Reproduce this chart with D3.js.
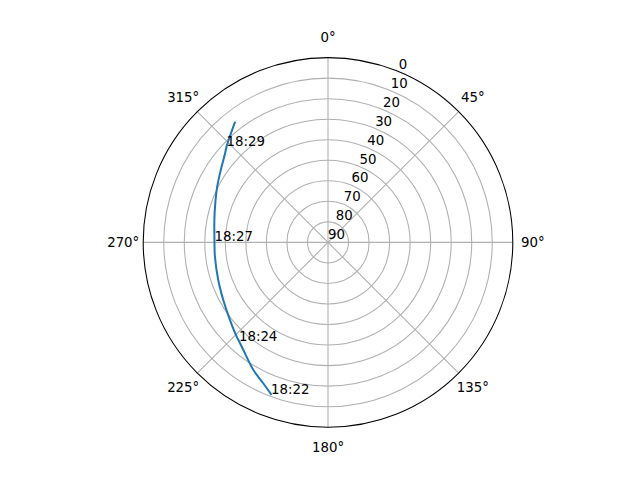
<!DOCTYPE html>
<html>
<head>
<meta charset="utf-8">
<script src="https://cdn.jsdelivr.net/npm/d3@7"></script>
<style>
  html, body { margin: 0; padding: 0; background: #fff; }
  svg { display: block; font-family: "DejaVu Sans", sans-serif; }
</style>
</head>
<body>
<svg id="chart" width="640" height="480"></svg>
<script>
// Track azimuth (deg, clockwise from north) and elevation (deg)
const trackAz = [200.6, 204.7, 210.3, 216.8, 222.1, 224.1, 231.6, 241.2, 251.1, 262.8, 270.7, 281.1, 289.1, 296.7, 304.0, 310.9, 313.4, 316.5, 322.1];
const trackEl = [11.1, 14.5, 18.0, 22.5, 25.3, 26.1, 29.1, 31.8, 33.5, 34.5, 34.7, 33.6, 31.9, 29.6, 27.0, 23.7, 22.0, 20.1, 16.1];
// Time annotations
const timeLabels = ["18:22", "18:24", "18:27", "18:29"];
const timeAz = [200.6, 222.1, 270.7, 313.4];
const timeEl = [11.1, 25.3, 34.7, 22.0];
// Axis ticks
const radialTicks = [0, 10, 20, 30, 40, 50, 60, 70, 80, 90];
const angleTicks = [0, 45, 90, 135, 180, 225, 270, 315];

const svg = d3.select("#chart");
const cx = 328, cy = 242.4, R = 184.8;
const g = svg.append("g").attr("transform", `translate(${cx},${cy})`);

const r = d3.scaleLinear().domain([90, 0]).range([0, R]);
const toRad = d => d * Math.PI / 180;
const px = (az, el) => r(el) * Math.sin(toRad(az));
const py = (az, el) => -r(el) * Math.cos(toRad(az));

// grid circles
g.selectAll("circle.grid").data(radialTicks.filter(d => d > 0 && d < 90))
  .enter().append("circle")
  .attr("r", d => r(d))
  .attr("fill", "none").attr("stroke", "#b0b0b0").attr("stroke-width", 1.07);

// angular grid lines
g.selectAll("line.grid").data(angleTicks)
  .enter().append("line")
  .attr("x1", 0).attr("y1", 0)
  .attr("x2", d => R * Math.sin(toRad(d)))
  .attr("y2", d => -R * Math.cos(toRad(d)))
  .attr("stroke", "#b0b0b0").attr("stroke-width", 1.07);

// outer spine
g.append("circle").attr("r", R).attr("fill", "none")
  .attr("stroke", "#000").attr("stroke-width", 1.07);

// angle labels
g.selectAll("text.ang").data(angleTicks)
  .enter().append("text")
  .attr("x", d => (R + 20) * Math.sin(toRad(d)))
  .attr("y", d => -(R + 20) * Math.cos(toRad(d)))
  .attr("text-anchor", "middle").attr("dominant-baseline", "central")
  .attr("font-size", 13.33).attr("fill", "#000")
  .text(d => d + "°");

// radial labels at 22.5°
g.selectAll("text.rad").data(radialTicks)
  .enter().append("text")
  .attr("x", d => px(22.5, d))
  .attr("y", d => py(22.5, d) - 3)
  .attr("text-anchor", "start")
  .attr("font-size", 13.33).attr("fill", "#000")
  .text(d => d);

// track
const pts = trackAz.map((a, i) => [px(a, trackEl[i]), py(a, trackEl[i])]);
g.append("path")
  .attr("d", d3.line().curve(d3.curveCatmullRom.alpha(0.5))(pts))
  .attr("fill", "none").attr("stroke", "#1f77b4").attr("stroke-width", 2)
  .attr("stroke-linecap", "square");

// time annotations
g.selectAll("text.time").data(timeLabels)
  .enter().append("text")
  .attr("x", (d, i) => px(timeAz[i], timeEl[i]))
  .attr("y", (d, i) => py(timeAz[i], timeEl[i]))
  .attr("text-anchor", "start")
  .attr("font-size", 13.33).attr("fill", "#000")
  .text(d => d);
</script>
</body>
</html>
